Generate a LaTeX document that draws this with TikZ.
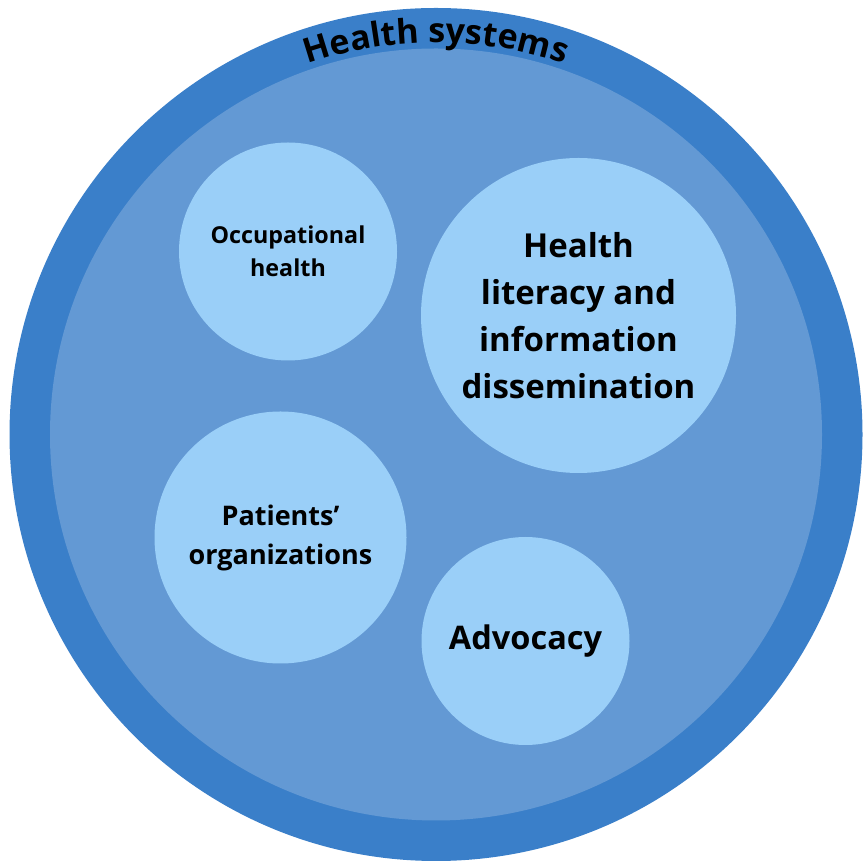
\documentclass[tikz,border=0pt]{standalone}
\usepackage{fontspec}
\setmainfont{Open Sans}
\usetikzlibrary{decorations.text}
\definecolor{ringc}{HTML}{3A7FC9}
\definecolor{innerc}{HTML}{6399D4}
\definecolor{bubblec}{HTML}{9ACFF8}
\begin{document}
\begin{tikzpicture}[x=1pt,y=1pt,
  bubble/.style={circle, fill=bubblec, inner sep=0pt, text=black, align=center}]
\useasboundingbox (0,0) rectangle (864,864);
\node[circle, fill=ringc, minimum size=853pt, inner sep=0pt] (outer) at (436,429.5) {};
\node[circle, fill=innerc, minimum size=772pt, inner sep=0pt] (inner) at (436,429.5) {};
\path[decorate, decoration={text along path, text align=center,
  text={|\fontsize{34}{34}\selectfont\bfseries|Health systems}}]
  (outer.center) ++(118:392) arc[start angle=118, end angle=62, radius=392];
\node[bubble, minimum size=218pt, font=\fontsize{23.3}{33}\selectfont\bfseries] (occ) at (288,612.5) {Occupational\\health};
\node[bubble, minimum size=315pt, font=\fontsize{33}{47}\selectfont\bfseries] (lit) at (578.5,548.5) {Health\\literacy and\\information\\dissemination};
\node[bubble, minimum size=252pt, font=\fontsize{27}{39}\selectfont\bfseries] (pat) at (280.5,326.5) {Patients’\\organizations};
\node[bubble, minimum size=208pt, font=\fontsize{32.5}{40}\selectfont\bfseries] (adv) at (525.5,223) {Advocacy};
\end{tikzpicture}
\end{document}
